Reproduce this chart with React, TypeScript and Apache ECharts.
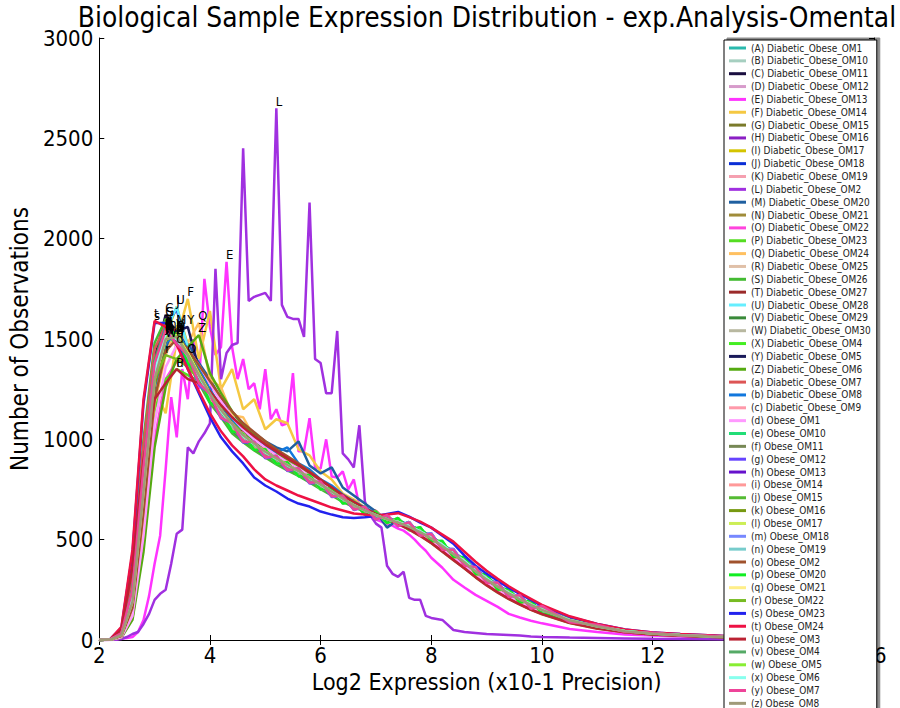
import React, { useEffect, useRef } from "react";
import * as echarts from "echarts";

const TITLE = "Biological Sample Expression Distribution - exp.Analysis-Omental";
const X_NAME = "Log2 Expression (x10-1 Precision)";
const Y_NAME = "Number of Observations";

// coarse x grid (most samples)
const XS = [2.0, 2.2, 2.4, 2.6, 2.8, 3.0, 3.2, 3.4, 3.6, 3.8, 4.0, 4.2, 4.4, 4.6, 4.8, 5.0, 5.2, 5.4, 5.6, 5.8,
  6.0, 6.2, 6.4, 6.6, 6.8, 7.0, 7.2, 7.4, 7.6, 7.8, 8.0, 8.2, 8.4, 8.6, 8.8, 9.0, 9.2, 9.4, 9.6, 9.8,
  10.0, 10.5, 11.0, 11.5, 12.0, 12.5, 13.0, 13.5, 14.0, 14.5, 15.0, 15.5, 16.0];

// fine x grid (spiky samples E and L)
const FX = [2.0, 2.1, 2.2, 2.3, 2.4, 2.5, 2.6, 2.7, 2.8, 2.9, 3.0, 3.1, 3.2, 3.3, 3.4, 3.5, 3.6, 3.7, 3.8, 3.9,
  4.0, 4.1, 4.2, 4.3, 4.4, 4.5, 4.6, 4.7, 4.8, 4.9, 5.0, 5.1, 5.2, 5.3, 5.4, 5.5, 5.6, 5.7, 5.8, 5.9,
  6.0, 6.1, 6.2, 6.3, 6.4, 6.5, 6.6, 6.7, 6.8, 6.9, 7.0, 7.1, 7.2, 7.3, 7.4, 7.5, 7.6, 7.7, 7.8, 7.9,
  8.0, 8.2, 8.4, 8.6, 8.8, 9.0, 9.2, 9.4, 9.6, 9.8, 10.0, 10.5, 11.0, 11.5, 12.0, 12.5, 13.0, 13.5, 14.0, 14.5,
  15.0, 15.5, 16.0];

const X_TICKS = [2, 4, 6, 8, 10, 12, 14, 16];
const Y_TICKS = [0, 500, 1000, 1500, 2000, 2500, 3000];

const LABELS = ["A", "B", "C", "D", "E", "F", "G", "H", "I", "J", "K", "L", "M", "N", "O", "P", "Q", "R", "S", "T", "U", "V", "W", "X", "Y", "Z",
  "a", "b", "c", "d", "e", "f", "g", "h", "i", "j", "k", "l", "m", "n", "o", "p", "q", "r", "s", "t", "u", "v", "w", "x", "y", "z"];

const SAMPLES = ["Diabetic_Obese_OM1", "Diabetic_Obese_OM10", "Diabetic_Obese_OM11", "Diabetic_Obese_OM12", "Diabetic_Obese_OM13",
  "Diabetic_Obese_OM14", "Diabetic_Obese_OM15", "Diabetic_Obese_OM16", "Diabetic_Obese_OM17", "Diabetic_Obese_OM18",
  "Diabetic_Obese_OM19", "Diabetic_Obese_OM2", "Diabetic_Obese_OM20", "Diabetic_Obese_OM21", "Diabetic_Obese_OM22",
  "Diabetic_Obese_OM23", "Diabetic_Obese_OM24", "Diabetic_Obese_OM25", "Diabetic_Obese_OM26", "Diabetic_Obese_OM27",
  "Diabetic_Obese_OM28", "Diabetic_Obese_OM29", "Diabetic_Obese_OM30", "Diabetic_Obese_OM4", "Diabetic_Obese_OM5",
  "Diabetic_Obese_OM6", "Diabetic_Obese_OM7", "Diabetic_Obese_OM8", "Diabetic_Obese_OM9",
  "Obese_OM1", "Obese_OM10", "Obese_OM11", "Obese_OM12", "Obese_OM13", "Obese_OM14", "Obese_OM15", "Obese_OM16",
  "Obese_OM17", "Obese_OM18", "Obese_OM19", "Obese_OM2", "Obese_OM20", "Obese_OM21", "Obese_OM22", "Obese_OM23",
  "Obese_OM24", "Obese_OM3", "Obese_OM4", "Obese_OM5", "Obese_OM6", "Obese_OM7", "Obese_OM8"];

const COLORS = ["#2ab9ad", "#a6cfc0", "#1a0f40", "#d79bcb", "#ff33ff", "#f5c842", "#7a7a2a", "#8b1fc4", "#d4c400", "#0a2ed6",
  "#f5a0b0", "#a030e0", "#1f5fa0", "#a08c3a", "#ff44dd", "#55dd22", "#ffc060", "#e0c0a8", "#44bb33", "#9b2a2a",
  "#66eeff", "#3a8a3a", "#b8b8a0", "#44ee22", "#1a1a5a", "#55aa11", "#dd5555", "#1177dd", "#ff99aa", "#ff99ff",
  "#22dd77", "#778855", "#6644ff", "#6611cc", "#ff9999", "#55bb33", "#779911", "#ccee55", "#7788ff", "#77cccc",
  "#a0522d", "#11ee22", "#ffee88", "#77bb22", "#2222ee", "#ee1144", "#bb2233", "#55aa66", "#88ee33", "#88ffee",
  "#ee4499", "#a09a78"];

const vA = [0, 4, 40, 300, 950, 1420, 1540, 1470, 1380, 1290, 1190, 1140, 1050, 1020, 960, 925, 905, 860, 850, 800, 775, 725, 705, 660, 650, 615, 605, 580, 570, 535, 505, 475, 425, 395, 340, 310, 262, 238, 200, 180, 148, 98, 70, 44, 33, 24, 18, 15, 10, 8, 6, 3, 2];
const vB = [0, 2, 25, 200, 760, 1310, 1500, 1510, 1420, 1320, 1230, 1120, 1075, 1000, 985, 935, 890, 880, 830, 815, 760, 745, 690, 680, 640, 625, 595, 590, 560, 545, 505, 478, 425, 395, 340, 310, 265, 240, 200, 182, 150, 102, 66, 46, 31, 26, 18, 14, 12, 7, 5, 4, 2];
const vC = [0, 3, 35, 260, 880, 1400, 1620, 1530, 1410, 1280, 1200, 1150, 1040, 1000, 975, 920, 910, 860, 835, 810, 765, 740, 695, 675, 640, 628, 596, 580, 568, 532, 512, 465, 435, 385, 350, 300, 270, 230, 208, 175, 155, 98, 70, 43, 33, 24, 20, 13, 11, 8, 5, 3, 2];
const vD = [0, 2, 20, 170, 680, 1250, 1480, 1530, 1450, 1330, 1240, 1140, 1090, 1015, 990, 940, 915, 875, 850, 810, 780, 740, 710, 672, 648, 618, 600, 586, 560, 542, 508, 470, 432, 388, 348, 302, 270, 232, 206, 175, 150, 100, 67, 46, 32, 25, 19, 14, 11, 8, 5, 3, 2];
const vE = [0, 0, 1, 3, 8, 10, 15, 40, 100, 220, 380, 520, 850, 1210, 1010, 1350, 1200, 1500, 1250, 1800,
  1560, 1420, 1460, 1885, 1460, 1300, 1400, 1250, 1280, 1150, 1350, 1100, 1150, 1070, 1080, 1330, 940, 940, 1105, 860,
  855, 1000, 815, 810, 840, 750, 800, 665, 640, 620, 600, 590, 575, 570, 555, 545, 525, 500, 470, 445,
  410, 360, 300, 262, 225, 195, 165, 130, 112, 96, 83, 55, 40, 28, 22, 18, 14, 11, 9, 6, 4, 3, 2];
const vF = [0, 2, 15, 150, 600, 1250, 1130, 1500, 1700, 1400, 1640, 1250, 1350, 1150, 1200, 1050, 1100, 1080, 950, 920, 840, 800, 730, 700, 660, 630, 610, 590, 570, 540, 505, 470, 430, 390, 345, 300, 265, 232, 205, 176, 150, 100, 68, 45, 32, 25, 19, 14, 11, 8, 5, 3, 2];
const vG = [0, 3, 32, 240, 840, 1380, 1600, 1500, 1390, 1290, 1200, 1125, 1065, 1005, 965, 935, 895, 865, 845, 800, 772, 732, 702, 668, 642, 622, 598, 584, 566, 538, 512, 468, 432, 390, 344, 306, 266, 236, 204, 178, 152, 100, 68, 45, 32, 25, 19, 14, 11, 8, 5, 3, 2];
const vH = [0, 2, 28, 210, 780, 1330, 1510, 1500, 1410, 1310, 1215, 1135, 1055, 1015, 968, 928, 902, 868, 838, 806, 768, 738, 698, 672, 644, 618, 602, 586, 564, 542, 508, 472, 428, 392, 346, 304, 270, 234, 206, 176, 152, 100, 68, 45, 32, 25, 19, 14, 11, 8, 5, 3, 2];
const vI = [0, 2, 22, 180, 700, 1280, 1520, 1660, 1470, 1340, 1230, 1150, 1080, 1030, 975, 945, 905, 880, 845, 810, 775, 742, 705, 676, 646, 624, 604, 588, 566, 540, 508, 470, 430, 390, 345, 305, 268, 235, 205, 178, 152, 100, 68, 45, 32, 25, 19, 14, 11, 8, 5, 3, 2];
const vJ = [0, 3, 30, 230, 820, 1370, 1560, 1650, 1420, 1300, 1190, 1120, 1040, 995, 950, 915, 880, 850, 820, 790, 755, 725, 692, 668, 642, 622, 606, 592, 574, 548, 516, 478, 438, 398, 352, 312, 274, 240, 208, 180, 154, 102, 70, 46, 33, 26, 20, 15, 11, 8, 5, 3, 2];
const vK = [0, 2, 26, 200, 760, 1320, 1530, 1480, 1390, 1300, 1220, 1140, 1070, 1010, 975, 935, 900, 872, 842, 802, 772, 736, 702, 670, 646, 620, 598, 584, 562, 538, 506, 468, 428, 388, 342, 302, 266, 232, 204, 176, 150, 98, 67, 44, 31, 24, 18, 14, 10, 7, 5, 3, 2];
const vL = [0, 0, 0, 1, 5, 15, 30, 40, 80, 130, 200, 230, 250, 380, 530, 550, 960, 930, 990, 1030,
  1080, 1850, 1300, 1430, 1470, 1480, 2450, 1690, 1710, 1720, 1730, 1690, 2650, 1670, 1610, 1600, 1600, 1510, 2180, 1400,
  1380, 1230, 1230, 1540, 930, 900, 860, 1070, 690, 620, 580, 560, 370, 330, 315, 340, 210, 200, 200, 120,
  110, 100, 50, 40, 35, 30, 28, 25, 22, 18, 15, 12, 10, 8, 6, 5, 4, 3, 2, 2, 1, 1, 0];
const vM = [0, 2, 18, 150, 620, 1180, 1450, 1560, 1480, 1380, 1300, 1200, 1130, 1080, 1030, 990, 960, 940, 990, 870, 830, 860, 760, 720, 680, 640, 560, 600, 570, 545, 510, 470, 430, 392, 345, 305, 270, 236, 205, 178, 152, 100, 68, 45, 32, 25, 19, 14, 11, 8, 5, 3, 2];
const vN = [0, 2, 24, 190, 740, 1300, 1500, 1520, 1430, 1330, 1235, 1150, 1085, 1025, 985, 945, 915, 880, 850, 815, 782, 745, 712, 678, 650, 626, 604, 588, 564, 538, 504, 466, 426, 386, 340, 300, 262, 230, 200, 172, 148, 97, 66, 44, 31, 24, 18, 14, 10, 7, 5, 3, 2];
const vO = [0, 1, 12, 110, 480, 1000, 1300, 1390, 1420, 1360, 1280, 1190, 1110, 1050, 1000, 960, 925, 890, 860, 820, 785, 748, 712, 680, 650, 626, 604, 586, 562, 536, 502, 462, 422, 380, 336, 296, 258, 226, 196, 170, 146, 95, 64, 43, 30, 23, 18, 13, 10, 7, 5, 3, 2];
const vP = [0, 2, 20, 170, 650, 1150, 1300, 1350, 1320, 1290, 1230, 1150, 1090, 1030, 990, 950, 915, 885, 852, 818, 780, 746, 710, 678, 650, 624, 604, 588, 566, 540, 508, 470, 430, 390, 344, 304, 266, 234, 204, 176, 150, 99, 67, 45, 32, 25, 19, 14, 11, 8, 5, 3, 2];
const vQ = [0, 2, 14, 130, 560, 1180, 1420, 1560, 1480, 1580, 1300, 1260, 1120, 1110, 1010, 990, 930, 910, 860, 840, 790, 760, 715, 690, 652, 632, 606, 592, 566, 540, 506, 468, 428, 388, 342, 302, 266, 232, 202, 175, 150, 98, 67, 44, 31, 24, 18, 14, 10, 7, 5, 3, 2];
const vR = [0, 3, 30, 230, 820, 1360, 1540, 1480, 1420, 1280, 1225, 1110, 1080, 990, 985, 915, 910, 850, 850, 790, 785, 720, 712, 660, 655, 610, 608, 576, 574, 530, 516, 462, 440, 384, 352, 298, 274, 228, 210, 172, 156, 96, 70, 44, 33, 24, 20, 13, 12, 7, 6, 3, 2];
const vS = [0, 4, 45, 330, 1000, 1480, 1600, 1500, 1390, 1280, 1180, 1110, 1030, 985, 945, 910, 875, 845, 818, 785, 752, 720, 688, 662, 638, 618, 602, 590, 572, 548, 516, 478, 438, 398, 352, 312, 274, 240, 208, 180, 154, 102, 70, 46, 33, 26, 20, 15, 11, 8, 5, 3, 2];
const vT = [0, 3, 35, 260, 880, 1400, 1560, 1540, 1400, 1330, 1195, 1160, 1050, 1038, 955, 958, 885, 892, 822, 828, 754, 760, 684, 694, 628, 644, 590, 600, 552, 552, 494, 482, 416, 402, 330, 316, 252, 246, 190, 188, 138, 99, 64, 47, 30, 26, 18, 15, 10, 8, 5, 3, 2];
const vU = [0, 2, 26, 200, 760, 1300, 1540, 1660, 1460, 1330, 1220, 1140, 1068, 1012, 972, 932, 900, 868, 838, 806, 770, 736, 700, 670, 642, 620, 600, 586, 566, 542, 510, 472, 432, 392, 346, 306, 268, 236, 206, 178, 152, 100, 68, 45, 32, 25, 19, 14, 11, 8, 5, 3, 2];
const vV = [0, 2, 22, 180, 700, 1270, 1490, 1540, 1440, 1330, 1230, 1150, 1082, 1024, 984, 944, 910, 878, 846, 812, 778, 742, 708, 676, 648, 624, 604, 588, 566, 540, 508, 470, 430, 390, 344, 304, 266, 234, 204, 176, 150, 99, 67, 45, 32, 25, 19, 14, 11, 8, 5, 3, 2];
const vW = [0, 2, 24, 190, 730, 1290, 1500, 1490, 1420, 1320, 1228, 1145, 1075, 1020, 980, 940, 906, 874, 844, 810, 776, 740, 706, 674, 646, 622, 602, 586, 564, 540, 508, 470, 430, 390, 344, 304, 268, 236, 206, 178, 152, 100, 68, 45, 32, 25, 19, 14, 11, 8, 5, 3, 2];
const vX = [0, 3, 30, 220, 800, 1340, 1530, 1470, 1440, 1300, 1245, 1120, 1092, 995, 998, 915, 922, 850, 860, 786, 792, 718, 722, 652, 666, 602, 622, 568, 588, 522, 530, 452, 452, 372, 366, 286, 288, 216, 226, 158, 172, 90, 76, 40, 36, 22, 21, 12, 12, 7, 6, 3, 2];
const vY = [0, 2, 24, 190, 740, 1290, 1490, 1540, 1560, 1350, 1240, 1150, 1080, 1022, 980, 940, 906, 874, 842, 808, 774, 738, 704, 672, 646, 622, 602, 586, 566, 540, 508, 470, 430, 390, 344, 304, 266, 234, 204, 176, 150, 99, 67, 45, 32, 25, 19, 14, 11, 8, 5, 3, 2];
const vZ = [0, 1, 12, 100, 440, 960, 1260, 1400, 1460, 1520, 1330, 1230, 1140, 1070, 1020, 975, 935, 900, 866, 830, 792, 754, 716, 682, 652, 626, 604, 588, 564, 538, 504, 466, 426, 386, 340, 300, 262, 230, 200, 172, 148, 97, 66, 44, 31, 24, 18, 14, 10, 7, 5, 3, 2];
const v_a = [0, 4, 42, 320, 970, 1450, 1570, 1490, 1390, 1290, 1195, 1120, 1050, 1000, 960, 922, 890, 860, 830, 798, 764, 730, 696, 668, 642, 620, 602, 590, 570, 546, 514, 476, 436, 396, 350, 310, 272, 238, 206, 178, 152, 100, 68, 45, 32, 25, 19, 14, 11, 8, 5, 3, 2];
const v_b = [0, 2, 22, 180, 700, 1260, 1480, 1530, 1450, 1350, 1250, 1160, 1100, 1050, 1000, 965, 935, 960, 880, 850, 800, 770, 725, 690, 660, 630, 610, 590, 566, 540, 506, 468, 428, 388, 342, 302, 266, 232, 202, 175, 150, 98, 67, 44, 31, 24, 18, 14, 10, 7, 5, 3, 2];
const v_c = [0, 3, 30, 230, 830, 1360, 1540, 1500, 1400, 1300, 1210, 1132, 1064, 1010, 970, 932, 900, 868, 838, 804, 770, 736, 700, 670, 644, 620, 600, 586, 564, 538, 506, 468, 428, 388, 342, 302, 266, 232, 202, 175, 150, 98, 67, 44, 31, 24, 18, 14, 10, 7, 5, 3, 2];
const v_d = [0, 1, 14, 120, 520, 1080, 1360, 1470, 1450, 1370, 1280, 1190, 1110, 1050, 1000, 958, 920, 886, 854, 818, 782, 746, 710, 678, 648, 622, 600, 582, 556, 528, 492, 452, 410, 368, 324, 284, 248, 216, 188, 162, 138, 90, 60, 40, 28, 22, 17, 13, 10, 7, 5, 3, 2];
const v_e = [0, 3, 32, 240, 850, 1380, 1550, 1520, 1380, 1320, 1185, 1148, 1040, 1028, 948, 950, 878, 886, 816, 824, 750, 756, 680, 690, 624, 640, 582, 608, 548, 562, 490, 492, 412, 412, 326, 326, 248, 256, 186, 198, 132, 100, 62, 48, 28, 26, 16, 15, 9, 8, 4, 3, 2];
const v_f = [0, 2, 26, 200, 760, 1310, 1510, 1520, 1430, 1320, 1225, 1142, 1072, 1016, 976, 936, 904, 872, 842, 808, 774, 738, 704, 672, 646, 622, 602, 588, 566, 540, 508, 470, 430, 390, 344, 304, 266, 234, 204, 176, 150, 99, 67, 45, 32, 25, 19, 14, 11, 8, 5, 3, 2];
const v_g = [0, 3, 34, 250, 860, 1390, 1560, 1470, 1410, 1270, 1220, 1104, 1076, 984, 984, 906, 914, 842, 852, 780, 786, 712, 718, 648, 662, 600, 622, 568, 588, 522, 532, 454, 454, 374, 368, 288, 290, 216, 226, 158, 172, 90, 76, 40, 36, 22, 21, 12, 12, 7, 6, 3, 2];
const v_h = [0, 2, 24, 190, 740, 1300, 1500, 1510, 1420, 1320, 1228, 1146, 1076, 1020, 978, 938, 905, 872, 842, 808, 774, 740, 704, 672, 646, 622, 602, 586, 564, 538, 506, 468, 428, 388, 342, 302, 266, 232, 202, 175, 150, 98, 67, 44, 31, 24, 18, 14, 10, 7, 5, 3, 2];
const v_i = [0, 3, 30, 225, 810, 1350, 1530, 1520, 1390, 1330, 1195, 1155, 1046, 1032, 952, 954, 880, 888, 818, 825, 750, 756, 681, 691, 625, 641, 581, 607, 546, 560, 488, 490, 410, 410, 324, 324, 246, 254, 184, 196, 130, 99, 62, 48, 28, 26, 16, 15, 9, 8, 4, 3, 2];
const v_j = [0, 2, 28, 210, 780, 1320, 1520, 1510, 1420, 1315, 1222, 1140, 1070, 1016, 974, 936, 902, 870, 840, 806, 772, 738, 702, 672, 646, 622, 602, 588, 566, 540, 508, 470, 430, 390, 344, 304, 266, 234, 204, 176, 150, 99, 67, 45, 32, 25, 19, 14, 11, 8, 5, 3, 2];
const v_k = [0, 2, 22, 180, 700, 1270, 1490, 1530, 1440, 1335, 1235, 1150, 1080, 1022, 980, 940, 906, 874, 842, 808, 774, 740, 704, 672, 646, 622, 602, 588, 566, 540, 508, 470, 430, 390, 344, 304, 266, 234, 204, 176, 150, 99, 67, 45, 32, 25, 19, 14, 11, 8, 5, 3, 2];
const v_l = [0, 2, 26, 200, 750, 1300, 1500, 1520, 1430, 1320, 1228, 1145, 1076, 1020, 978, 938, 905, 872, 842, 808, 774, 740, 704, 672, 646, 622, 602, 588, 566, 540, 508, 470, 430, 390, 344, 304, 266, 234, 204, 176, 150, 99, 67, 45, 32, 25, 19, 14, 11, 8, 5, 3, 2];
const v_m = [0, 3, 32, 235, 830, 1360, 1540, 1475, 1420, 1280, 1228, 1110, 1082, 988, 988, 910, 918, 846, 856, 784, 790, 716, 720, 650, 664, 601, 622, 568, 588, 522, 532, 454, 454, 374, 368, 288, 290, 216, 226, 158, 172, 90, 76, 40, 36, 22, 21, 12, 12, 7, 6, 3, 2];
const v_n = [0, 2, 26, 200, 760, 1310, 1510, 1510, 1420, 1320, 1225, 1142, 1072, 1016, 976, 936, 904, 872, 842, 808, 774, 738, 704, 672, 646, 622, 602, 588, 566, 540, 508, 470, 430, 390, 344, 304, 266, 234, 204, 176, 150, 99, 67, 45, 32, 25, 19, 14, 11, 8, 5, 3, 2];
const v_o = [0, 2, 20, 160, 640, 1200, 1440, 1500, 1450, 1370, 1290, 1210, 1140, 1080, 1035, 990, 950, 915, 880, 840, 800, 760, 720, 686, 654, 626, 600, 578, 550, 518, 482, 440, 398, 356, 312, 272, 236, 204, 176, 150, 128, 84, 56, 38, 27, 21, 16, 12, 9, 7, 5, 3, 2];
const v_p = [0, 3, 34, 250, 860, 1390, 1550, 1520, 1380, 1320, 1185, 1148, 1040, 1028, 948, 950, 878, 886, 816, 824, 750, 756, 680, 690, 624, 640, 582, 608, 548, 562, 492, 494, 414, 414, 328, 328, 250, 256, 186, 198, 132, 100, 62, 48, 28, 26, 16, 15, 9, 8, 4, 3, 2];
const v_q = [0, 2, 24, 190, 740, 1300, 1500, 1520, 1430, 1325, 1230, 1146, 1076, 1020, 978, 938, 905, 872, 842, 808, 774, 740, 704, 672, 646, 622, 602, 588, 566, 540, 508, 470, 430, 390, 344, 304, 266, 234, 204, 176, 150, 99, 67, 45, 32, 25, 19, 14, 11, 8, 5, 3, 2];
const v_r = [0, 3, 30, 230, 820, 1300, 1420, 1400, 1360, 1300, 1220, 1140, 1070, 1015, 975, 935, 902, 870, 840, 806, 772, 738, 702, 672, 646, 622, 602, 588, 566, 540, 508, 470, 430, 390, 344, 304, 266, 234, 204, 176, 150, 99, 67, 45, 32, 25, 19, 14, 11, 8, 5, 3, 2];
const v_s = [0, 5, 60, 430, 1180, 1580, 1580, 1480, 1350, 1230, 1110, 1010, 940, 880, 810, 770, 740, 705, 680, 665, 640, 625, 612, 608, 612, 618, 628, 638, 615, 585, 560, 520, 480, 420, 370, 330, 295, 260, 230, 200, 170, 115, 80, 52, 38, 30, 24, 18, 14, 10, 7, 5, 3];
const v_t = [0, 5, 65, 450, 1200, 1590, 1560, 1470, 1350, 1240, 1130, 1040, 970, 915, 850, 800, 770, 745, 720, 700, 680, 660, 645, 630, 625, 620, 625, 632, 612, 590, 560, 525, 490, 440, 390, 345, 305, 268, 235, 205, 175, 118, 80, 52, 38, 30, 24, 18, 14, 10, 7, 5, 3];
const v_u = [0, 4, 50, 360, 900, 1200, 1280, 1350, 1300, 1280, 1240, 1170, 1110, 1060, 1015, 975, 940, 905, 872, 835, 798, 760, 722, 688, 656, 628, 602, 580, 552, 520, 484, 442, 400, 358, 314, 274, 238, 206, 178, 152, 130, 86, 58, 39, 28, 21, 16, 12, 9, 7, 5, 3, 2];
const v_v = [0, 3, 30, 225, 810, 1345, 1530, 1505, 1410, 1310, 1218, 1136, 1068, 1014, 974, 934, 900, 868, 838, 805, 770, 736, 701, 671, 645, 621, 601, 587, 566, 540, 508, 470, 430, 390, 344, 304, 266, 234, 204, 176, 150, 99, 67, 45, 32, 25, 19, 14, 11, 8, 5, 3, 2];
const v_w = [0, 2, 26, 205, 770, 1315, 1515, 1515, 1425, 1320, 1226, 1144, 1074, 1018, 977, 937, 904, 872, 842, 808, 774, 740, 704, 672, 646, 622, 602, 588, 566, 540, 508, 470, 430, 390, 346, 306, 268, 236, 206, 178, 152, 100, 68, 45, 32, 25, 19, 14, 11, 8, 5, 3, 2];
const v_x = [0, 3, 30, 220, 800, 1340, 1525, 1500, 1415, 1315, 1220, 1140, 1070, 1015, 975, 935, 902, 870, 840, 806, 772, 738, 702, 672, 646, 622, 602, 588, 568, 542, 512, 474, 434, 394, 348, 308, 270, 236, 206, 178, 152, 100, 68, 45, 32, 25, 19, 14, 11, 8, 5, 3, 2];
const v_y = [0, 3, 34, 250, 860, 1380, 1545, 1475, 1420, 1280, 1226, 1108, 1080, 988, 988, 910, 918, 846, 856, 784, 790, 716, 720, 650, 664, 600, 622, 568, 586, 520, 528, 450, 450, 370, 364, 284, 286, 214, 224, 156, 170, 89, 76, 40, 36, 22, 21, 12, 12, 7, 6, 3, 2];
const v_z = [0, 2, 24, 190, 740, 1300, 1500, 1510, 1420, 1320, 1228, 1146, 1076, 1020, 978, 938, 905, 872, 842, 808, 774, 740, 704, 672, 646, 622, 602, 586, 564, 538, 506, 468, 428, 388, 342, 302, 266, 232, 202, 175, 150, 98, 67, 44, 31, 24, 18, 14, 10, 7, 5, 3, 2];

const VALUES = [vA, vB, vC, vD, vE, vF, vG, vH, vI, vJ, vK, vL, vM, vN, vO, vP, vQ, vR, vS, vT, vU, vV, vW, vX, vY, vZ,
  v_a, v_b, v_c, v_d, v_e, v_f, v_g, v_h, v_i, v_j, v_k, v_l, v_m, v_n, v_o, v_p, v_q, v_r, v_s, v_t, v_u, v_v, v_w, v_x, v_y, v_z];

const FONT = "'DejaVu Sans Condensed', 'DejaVu Sans', sans-serif";

export default function App() {
  const ref = useRef<HTMLDivElement>(null);

  useEffect(() => {
    if (!ref.current) return;
    const chart = echarts.init(ref.current, undefined, { renderer: "svg" });
    const names = SAMPLES.map((s, i) => `(${LABELS[i]}) ${s}`);

    const series: any[] = VALUES.map((ys, i) => {
      const xs = ys.length === FX.length ? FX : XS;
      const n = Math.min(xs.length, ys.length);
      const data: number[][] = [];
      for (let k = 0; k < n; k++) data.push([xs[k], ys[k]]);
      return {
        type: "line",
        name: names[i],
        data,
        symbol: "none",
        showSymbol: false,
        xAxisIndex: 0,
        yAxisIndex: 0,
        lineStyle: { width: 2.5, color: COLORS[i] },
        itemStyle: { color: COLORS[i] },
        z: 2,
        markPoint: {
          symbol: "rect",
          symbolSize: 1,
          silent: true,
          itemStyle: { color: "rgba(0,0,0,0)" },
          label: {
            show: true,
            formatter: LABELS[i],
            position: [0, 0],
            align: "left",
            verticalAlign: "bottom",
            color: "#000",
            fontSize: 13,
            fontFamily: FONT,
          },
          data: [{ type: "max" }],
        },
      };
    });

    const axisCommon = {
      axisLine: { show: true, lineStyle: { color: "#000", width: 1 } },
      axisTick: { show: true, inside: true, length: 5, lineStyle: { color: "#000" } },
      splitLine: { show: false },
    };

    chart.setOption({
      animation: false,
      backgroundColor: "#fff",
      textStyle: { fontFamily: FONT },
      grid: { left: 98, right: 26, top: 38, bottom: 68, containLabel: false },
      graphic: [
        {
          type: "text",
          x: 487,
          y: 3,
          z: 100,
          style: { text: TITLE, fontSize: 27.8, fontFamily: FONT, fill: "#000", textAlign: "center", textVerticalAlign: "top" },
        },
      ],
      xAxis: [
        {
          type: "value",
          min: X_TICKS[0],
          max: X_TICKS[X_TICKS.length - 1],
          interval: 2,
          position: "bottom",
          name: X_NAME,
          nameLocation: "middle",
          nameGap: 29,
          nameTextStyle: { fontSize: 23, color: "#000", fontFamily: FONT },
          axisLabel: { fontSize: 22, color: "#000", margin: 4, fontFamily: FONT, formatter: (v: number) => String(v) },
          ...axisCommon,
        },
        {
          type: "value",
          min: X_TICKS[0],
          max: X_TICKS[X_TICKS.length - 1],
          interval: 2,
          position: "top",
          axisLabel: { show: false },
          ...axisCommon,
        },
      ],
      yAxis: [
        {
          type: "value",
          min: Y_TICKS[0],
          max: Y_TICKS[Y_TICKS.length - 1],
          interval: 500,
          position: "left",
          name: Y_NAME,
          nameLocation: "middle",
          nameGap: 62,
          nameTextStyle: { fontSize: 24, color: "#000", fontFamily: FONT },
          axisLabel: { fontSize: 22, color: "#000", margin: 6, fontFamily: FONT, formatter: (v: number) => String(v) },
          ...axisCommon,
        },
        {
          type: "value",
          min: Y_TICKS[0],
          max: Y_TICKS[Y_TICKS.length - 1],
          interval: 500,
          position: "right",
          axisLabel: { show: false },
          ...axisCommon,
        },
      ],
      legend: {
        data: names,
        orient: "vertical",
        left: 724,
        top: 40,
        height: 1200,
        selectedMode: false,
        icon: "rect",
        itemWidth: 17,
        itemHeight: 3,
        itemGap: 2.85,
        padding: [3, 6, 3, 5],
        backgroundColor: "#fff",
        borderColor: "#000",
        borderWidth: 1,
        shadowColor: "rgba(0,0,0,0.45)",
        shadowOffsetX: 3,
        shadowOffsetY: -2,
        textStyle: { fontSize: 10, lineHeight: 10, color: "#222", fontFamily: FONT, padding: [0, 0, 0, 0] },
        z: 10,
      },
      series,
    });

    return () => chart.dispose();
  }, []);

  return <div ref={ref} style={{ position: "absolute", left: 0, top: 0, width: 900, height: 708 }} />;
}
